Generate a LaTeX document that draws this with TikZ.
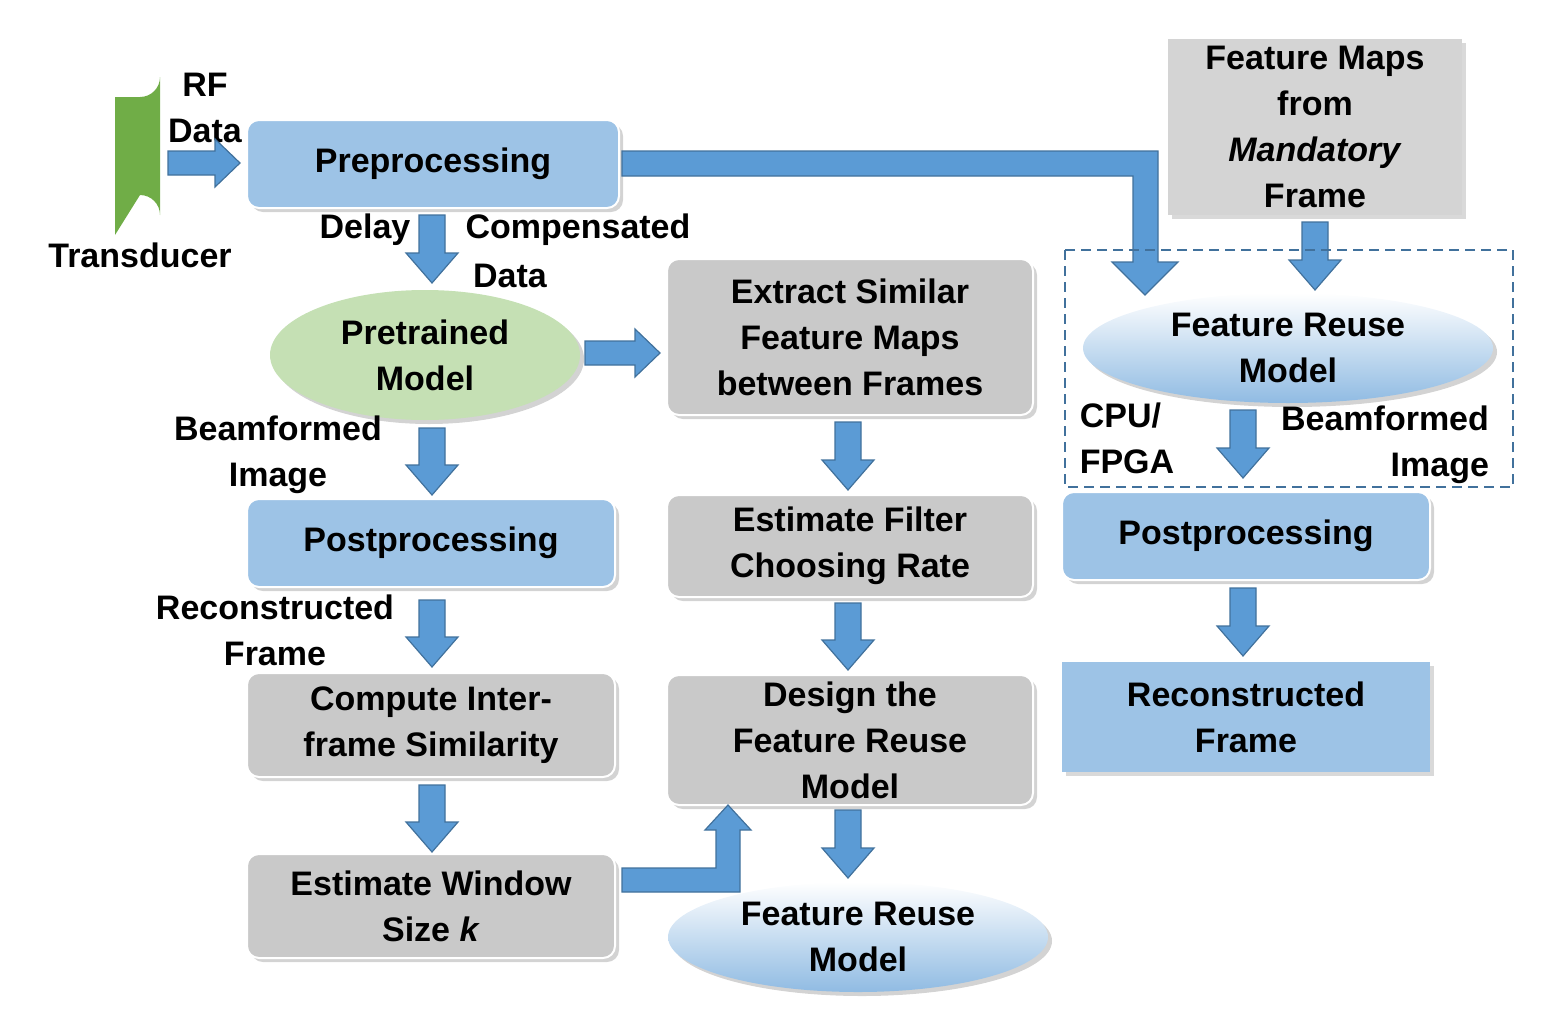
\documentclass[tikz,border=0pt]{standalone}
\usepackage{fontspec}
\setmainfont{Liberation Sans}
\usetikzlibrary{shadows,shapes.geometric}
\definecolor{lb}{HTML}{9DC3E6}
\definecolor{ab}{HTML}{5B9BD5}
\definecolor{ad}{HTML}{41719C}
\definecolor{gr}{HTML}{C9C9C9}
\definecolor{lg}{HTML}{C5E0B4}
\definecolor{tg}{HTML}{70AD47}
\tikzset{
 x=0.5pt,y=-0.5pt,
 every node/.style={font=\fontsize{17}{23}\selectfont\bfseries,align=center,inner sep=0pt},
 box/.style={rounded corners=6pt,draw=white,line width=1pt,drop shadow={opacity=0.35,shadow xshift=2pt,shadow yshift=-2pt}},
 bbox/.style={box,fill=lb},
 gbox/.style={box,fill=gr},
 ell/.style={ellipse,draw=none,drop shadow={opacity=0.35,shadow xshift=2pt,shadow yshift=-2pt}},
 blk/.style={fill=ab,draw=ad,line width=0.6pt},
}
\newcommand\DArrow[3]{\draw[blk] (#1-13,#2)--(#1+13,#2)--(#1+13,#3-30)--(#1+26,#3-30)--(#1,#3)--(#1-26,#3-30)--(#1-13,#3-30)--cycle;}
\newcommand\RArrow[3]{\draw[blk] (#2,#1-12)--(#3-25,#1-12)--(#3-25,#1-24)--(#3,#1)--(#3-25,#1+24)--(#3-25,#1+12)--(#2,#1+12)--cycle;}
\begin{document}
\begin{tikzpicture}
\useasboundingbox (0,0) rectangle (1551,1017);
% transducer
\fill[tg] (115,97)--(140,97) arc[start angle=90,end angle=0,x radius=20,y radius=20] -- (160,215) arc[start angle=0,end angle=-90,x radius=20,y radius=20] -- (115,235) -- cycle;
\node (td) at (140,255) {Transducer};
\node (rf) at (205,108) {RF\\Data};
\RArrow{163}{168}{240}
% left column
\node[bbox,minimum width=186pt,minimum height=44pt] (pre) at (433,164) {Preprocessing};
\node at (365,230) {Delay};
\node at (578,230) {Compensated};
\node at (510,276) {Data};
\DArrow{432}{215}{283}
\node[ell,fill=lg,minimum width=155pt,minimum height=65pt] (pm) at (425,355) {Pretrained\\Model};
\RArrow{353}{585}{660}
\node at (278,455) {\hspace*{0pt}Beamformed\\Image};
\DArrow{432}{428}{495}
\node[bbox,minimum width=184pt,minimum height=44pt] (post1) at (431,543) {Postprocessing};
\node at (275,630) {Reconstructed\\Frame};
\DArrow{432}{600}{667}
\node[gbox,minimum width=184pt,minimum height=52pt] (cis) at (431,725) {Compute Inter-\\frame Similarity};
\DArrow{432}{785}{852}
\node[gbox,minimum width=184pt,minimum height=52pt] (ews) at (431,906) {Estimate Window\\Size \textit{k}};
% middle column
\node[gbox,minimum width=183pt,minimum height=78pt] (ext) at (850,337) {Extract Similar\\Feature Maps\\between Frames};
\DArrow{848}{422}{490}
\node[gbox,minimum width=183pt,minimum height=51pt] (efc) at (850,546) {Estimate Filter\\Choosing Rate};
\DArrow{848}{603}{670}
\node[gbox,minimum width=183pt,minimum height=65pt] (dfr) at (850,740) {Design the\\Feature Reuse\\Model};
\DArrow{848}{810}{878}
\node[ell,top color=white,bottom color=lb!80!ab,minimum width=190pt,minimum height=55pt] (frm1) at (858,937) {Feature Reuse\\Model};
\draw[blk] (622,868)--(716,868)--(716,830)--(705,830)--(728,805)--(751,830)--(740,830)--(740,892)--(622,892)--cycle;
% right column
\node[fill=gr!80!white,minimum width=147pt,minimum height=88pt,drop shadow={opacity=0.3,shadow xshift=2pt,shadow yshift=-2pt}] (fm) at (1315,127) {Feature Maps\\from\\\textit{Mandatory}\\Frame};
\draw[blk] (622,151)--(1158,151)--(1158,262)--(1178,262)--(1145,295)--(1112,262)--(1133,262)--(1133,176)--(622,176)--cycle;
\DArrow{1315}{222}{290}
\draw[ad,line width=1.3pt,dash pattern=on 5pt off 3pt] (1065,250) rectangle (1513,487);
\node[ell,top color=white,bottom color=lb!80!ab,minimum width=205pt,minimum height=55pt] (frm2) at (1288,348) {Feature Reuse\\Model};
\node[align=left] at (1127,438) {CPU/\\FPGA};
\DArrow{1243}{410}{478}
\node[align=right] at (1385,445) {Beamformed\\Image};
\node[bbox,minimum width=184pt,minimum height=44pt] (post2) at (1246,536) {Postprocessing};
\DArrow{1243}{588}{656}
\node[fill=lb,minimum width=184pt,minimum height=55pt,drop shadow={opacity=0.3,shadow xshift=2pt,shadow yshift=-2pt}] (rfr) at (1246,717) {Reconstructed\\Frame};
\end{tikzpicture}
\end{document}
